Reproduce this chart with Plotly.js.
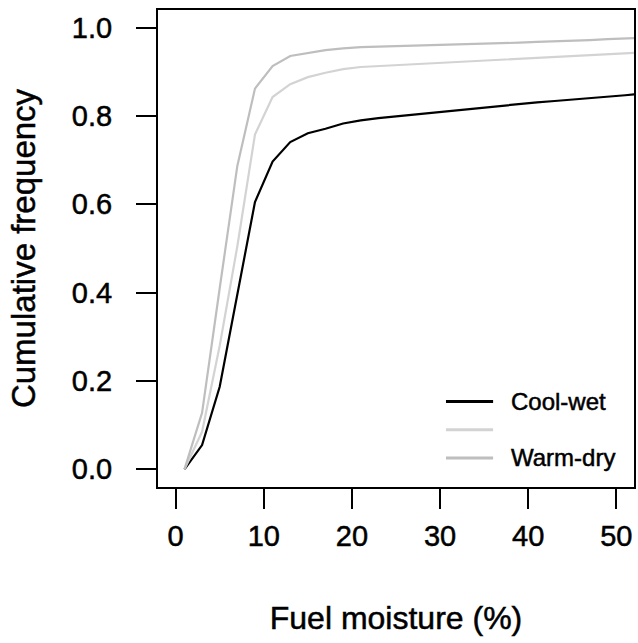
<!DOCTYPE html>
<html>
<head>
<meta charset="utf-8">
<script src="https://cdn.plot.ly/plotly-3.0.1.min.js"></script>
<style>
  html, body { margin: 0; padding: 0; background: #ffffff; }
  #chart { width: 638px; height: 643px; }
  /* slightly heavier lettering for all chart text */
  #chart text { stroke: #000000; stroke-width: 0.5px; }
</style>
</head>
<body>
<div id="chart"></div>
<script>
// Fuel moisture classes (%) at which the cumulative frequency was evaluated
const moisture = [1, 3, 5, 7, 9, 11, 13, 15, 17, 19, 21, 23, 25, 27, 29, 31, 33, 35, 37, 39, 41, 43, 45, 47, 49, 51, 53];

// Cumulative frequency for each climate scenario
const coolWet = [0, 0.055, 0.187, 0.400, 0.605, 0.697, 0.741, 0.761, 0.771, 0.783, 0.790, 0.795, 0.799, 0.804, 0.808, 0.812, 0.816, 0.820, 0.824, 0.828, 0.831, 0.834, 0.837, 0.840, 0.843, 0.847, 0.851];
const middle  = [0, 0.085, 0.280, 0.505, 0.758, 0.843, 0.872, 0.888, 0.898, 0.906, 0.911, 0.913, 0.915, 0.917, 0.919, 0.921, 0.923, 0.925, 0.928, 0.930, 0.932, 0.934, 0.936, 0.938, 0.940, 0.942, 0.944];
const warmDry = [0, 0.128, 0.410, 0.687, 0.862, 0.913, 0.936, 0.943, 0.949, 0.953, 0.956, 0.957, 0.958, 0.959, 0.960, 0.961, 0.962, 0.963, 0.964, 0.966, 0.968, 0.969, 0.971, 0.972, 0.974, 0.975, 0.977];

// Legend labels (the middle scenario carries no label)
const legendLabels = ['Cool-wet', '', 'Warm-dry'];

// Axis ticks
const xTicks = [0, 10, 20, 30, 40, 50];
const yTicks = [0, 0.2, 0.4, 0.6, 0.8, 1.0];
const yTickText = ['0.0', '0.2', '0.4', '0.6', '0.8', '1.0'];

const seriesColors = ['#000000', '#d3d3d3', '#bebebe'];
const seriesValues = [coolWet, middle, warmDry];

const FONT = 'Liberation Sans, Arial, Helvetica, sans-serif';

const traces = seriesValues.map((vals, i) => ({
  x: moisture,
  y: vals,
  type: 'scatter',
  mode: 'lines',
  name: legendLabels[i],
  line: { color: seriesColors[i], width: 2.2 },
  showlegend: false,
  hoverinfo: 'skip'
}));

// Hand-placed legend in the lower right corner of the plot area
const shapes = [];
const annotations = [];
const legX0 = 0.605, legX1 = 0.704, legTextX = 0.737;
const legY = [0.179, 0.120, 0.061];
legendLabels.forEach((lab, i) => {
  shapes.push({
    type: 'line', xref: 'paper', yref: 'paper',
    x0: legX0, x1: legX1, y0: legY[i], y1: legY[i],
    line: { color: seriesColors[i], width: 3 }
  });
  if (lab) {
    annotations.push({
      xref: 'paper', yref: 'paper', x: legTextX, y: legY[i],
      xanchor: 'left', yanchor: 'middle', showarrow: false,
      text: lab, font: { family: FONT, size: 24, color: '#000000' }
    });
  }
});

const layout = {
  width: 638,
  height: 643,
  margin: { l: 158, r: 4, t: 10, b: 156 },
  paper_bgcolor: '#ffffff',
  plot_bgcolor: '#ffffff',
  font: { family: FONT, color: '#000000' },
  showlegend: false,
  xaxis: {
    range: [-2, 52],
    tickvals: xTicks,
    ticktext: xTicks.map(String),
    ticks: 'outside',
    ticklen: 20,
    tickwidth: 2,
    tickcolor: '#000000',
    ticklabelstandoff: 2,
    showline: true,
    mirror: true,
    linecolor: '#000000',
    linewidth: 2,
    showgrid: false,
    zeroline: false,
    tickfont: { family: FONT, size: 29, color: '#000000' },
    title: { text: 'Fuel moisture (%)', font: { family: FONT, size: 32, color: '#000000' }, standoff: 56 }
  },
  yaxis: {
    range: [-0.04, 1.04],
    tickvals: yTicks,
    ticktext: yTickText,
    ticks: 'outside',
    ticklen: 20,
    tickwidth: 2,
    tickcolor: '#000000',
    ticklabelstandoff: 18,
    showline: true,
    mirror: true,
    linecolor: '#000000',
    linewidth: 2,
    showgrid: false,
    zeroline: false,
    tickfont: { family: FONT, size: 29, color: '#000000' },
    title: { text: 'Cumulative frequency', font: { family: FONT, size: 33, color: '#000000' }, standoff: 26 }
  },
  shapes: shapes,
  annotations: annotations
};

Plotly.newPlot('chart', traces, layout, { displayModeBar: false, staticPlot: true });
</script>
</body>
</html>
